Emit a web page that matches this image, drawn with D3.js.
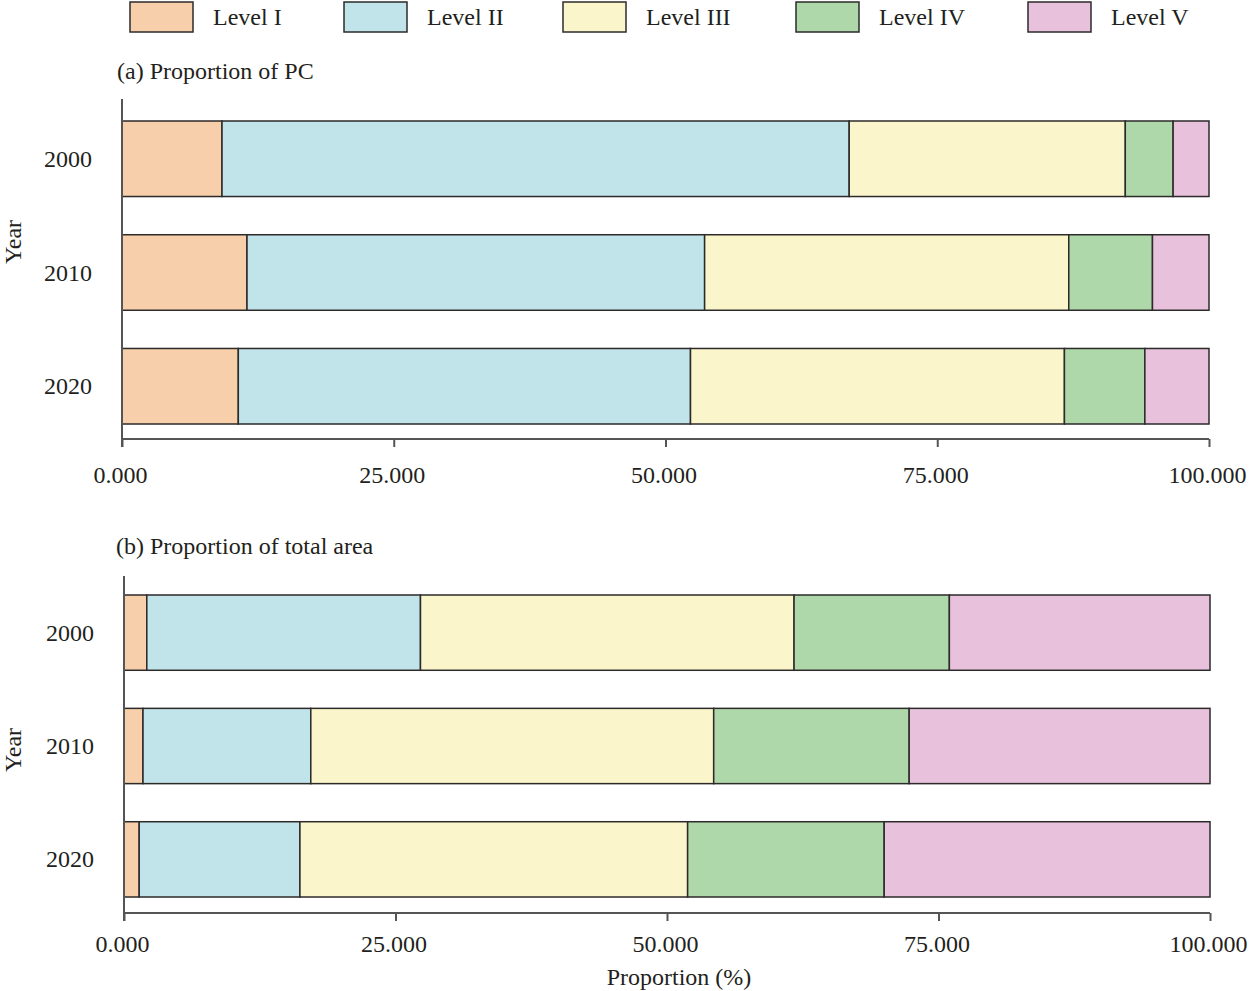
<!DOCTYPE html>
<html>
<head>
<meta charset="utf-8">
<script src="https://cdn.jsdelivr.net/npm/d3@7"></script>
<style>
  body { margin: 0; background: #fff; }
  svg text { font-family: 'Liberation Serif', 'Times New Roman', serif; fill: #231f20; }
</style>
</head>
<body>
<svg id="chart" width="1249" height="991"></svg>
<script>
const years = ['2000', '2010', '2020'];
const levels = ['Level I', 'Level II', 'Level III', 'Level IV', 'Level V'];
const levelColors = ['#f7cfab', '#c1e3ea', '#fbf5cb', '#afd8aa', '#e8c2dc'];
const xTicks = [0, 25, 50, 75, 100];

// proportion of PC, one array per year, levels I..V
const pc2000 = [9.2, 57.7, 25.4, 4.4, 3.3];
const pc2010 = [11.5, 42.1, 33.5, 7.7, 5.2];
const pc2020 = [10.7, 41.6, 34.4, 7.4, 5.9];

// proportion of total area
const area2000 = [2.1, 25.2, 34.4, 14.3, 24.0];
const area2010 = [1.75, 15.45, 37.1, 18.0, 27.7];
const area2020 = [1.4, 14.8, 35.7, 18.1, 30.0];

const svg = d3.select('#chart');
const axisColor = '#555';
const barStroke = '#2d2a2a';

const toRows = (series) => years.map((y, i) => {
  const row = { year: y };
  levels.forEach((l, j) => { row[l] = series[i][j]; });
  return row;
});

const color = d3.scaleOrdinal().domain(levels).range(levelColors);

// legend
const legendX = [130, 344, 563, 796, 1028];
const legend = svg.append('g').attr('class', 'legend');
levels.forEach((l, i) => {
  const g = legend.append('g').attr('transform', `translate(${legendX[i]}, 2)`);
  g.append('rect')
    .attr('width', 63)
    .attr('height', 30)
    .style('fill', color(l))
    .style('stroke', barStroke)
    .style('stroke-width', 1.5);
  g.append('text')
    .attr('x', 83)
    .attr('y', 23)
    .style('font-size', '24px')
    .text(l);
});

const drawPanel = (opts) => {
  const { series, title, top } = opts;
  const rows = toRows(series);
  const stacked = d3.stack().keys(levels)(rows);

  const x = d3.scaleLinear().domain([0, 100]).range([opts.x0, opts.x1]);
  const y = d3.scaleBand().domain(years).range([top.bar0, top.bar1])
    .paddingInner(0.336).paddingOuter(0);

  const g = svg.append('g');

  g.append('text')
    .attr('x', opts.titleX)
    .attr('y', top.title)
    .style('font-size', '24px')
    .text(title);

  // layers
  g.selectAll('g.layer')
    .data(stacked)
    .enter()
    .append('g')
    .attr('class', 'layer')
    .style('fill', (d) => color(d.key))
    .selectAll('rect')
    .data((d) => d)
    .enter()
    .append('rect')
    .attr('x', (d) => x(d[0]))
    .attr('y', (d) => y(d.data.year))
    .attr('width', (d) => x(d[1]) - x(d[0]))
    .attr('height', y.bandwidth())
    .style('stroke', barStroke)
    .style('stroke-width', 1.5);

  // x axis
  const xAxis = g.append('g')
    .attr('transform', `translate(0, ${top.axis})`)
    .call(d3.axisBottom(x).tickValues(xTicks).tickSize(8).tickPadding(opts.tickPad)
      .tickFormat(d3.format('.3f')));
  xAxis.select('.domain').attr('d', `M${opts.x0},0H${opts.x1}`).style('stroke', axisColor).style('stroke-width', 2);
  xAxis.selectAll('.tick line').style('stroke', axisColor).style('stroke-width', 2);
  xAxis.selectAll('.tick text')
    .attr('dx', -2)
    .style('font-size', '24px')
    .style('font-family', "'Liberation Serif', 'Times New Roman', serif")
    .style('fill', '#231f20');

  // y axis: plain line on the left, year labels
  g.append('line')
    .attr('x1', opts.x0).attr('x2', opts.x0)
    .attr('y1', top.yTop).attr('y2', top.axis + 8)
    .style('stroke', axisColor)
    .style('stroke-width', 2);

  g.selectAll('text.year')
    .data(years)
    .enter()
    .append('text')
    .attr('class', 'year')
    .attr('x', opts.x0 - 30)
    .attr('y', (d) => y(d) + y.bandwidth() / 2 + 8)
    .style('text-anchor', 'end')
    .style('font-size', '24px')
    .text((d) => d);

  g.append('text')
    .attr('transform', `translate(21, ${top.yLabel}) rotate(-90)`)
    .style('text-anchor', 'middle')
    .style('font-size', '24px')
    .text('Year');
};

drawPanel({
  series: [pc2000, pc2010, pc2020],
  title: '(a) Proportion of PC',
  titleX: 117,
  x0: 122,
  x1: 1209,
  tickPad: 19,
  top: { title: 79, bar0: 121, bar1: 424, axis: 439, yTop: 99, yLabel: 242 },
});

drawPanel({
  series: [area2000, area2010, area2020],
  title: '(b) Proportion of total area',
  titleX: 116,
  x0: 124,
  x1: 1210,
  tickPad: 14,
  top: { title: 554, bar0: 595, bar1: 897, axis: 913, yTop: 576, yLabel: 750 },
});

svg.append('text')
  .attr('x', 679)
  .attr('y', 985)
  .style('text-anchor', 'middle')
  .style('font-size', '24px')
  .text('Proportion (%)');
</script>
</body>
</html>
